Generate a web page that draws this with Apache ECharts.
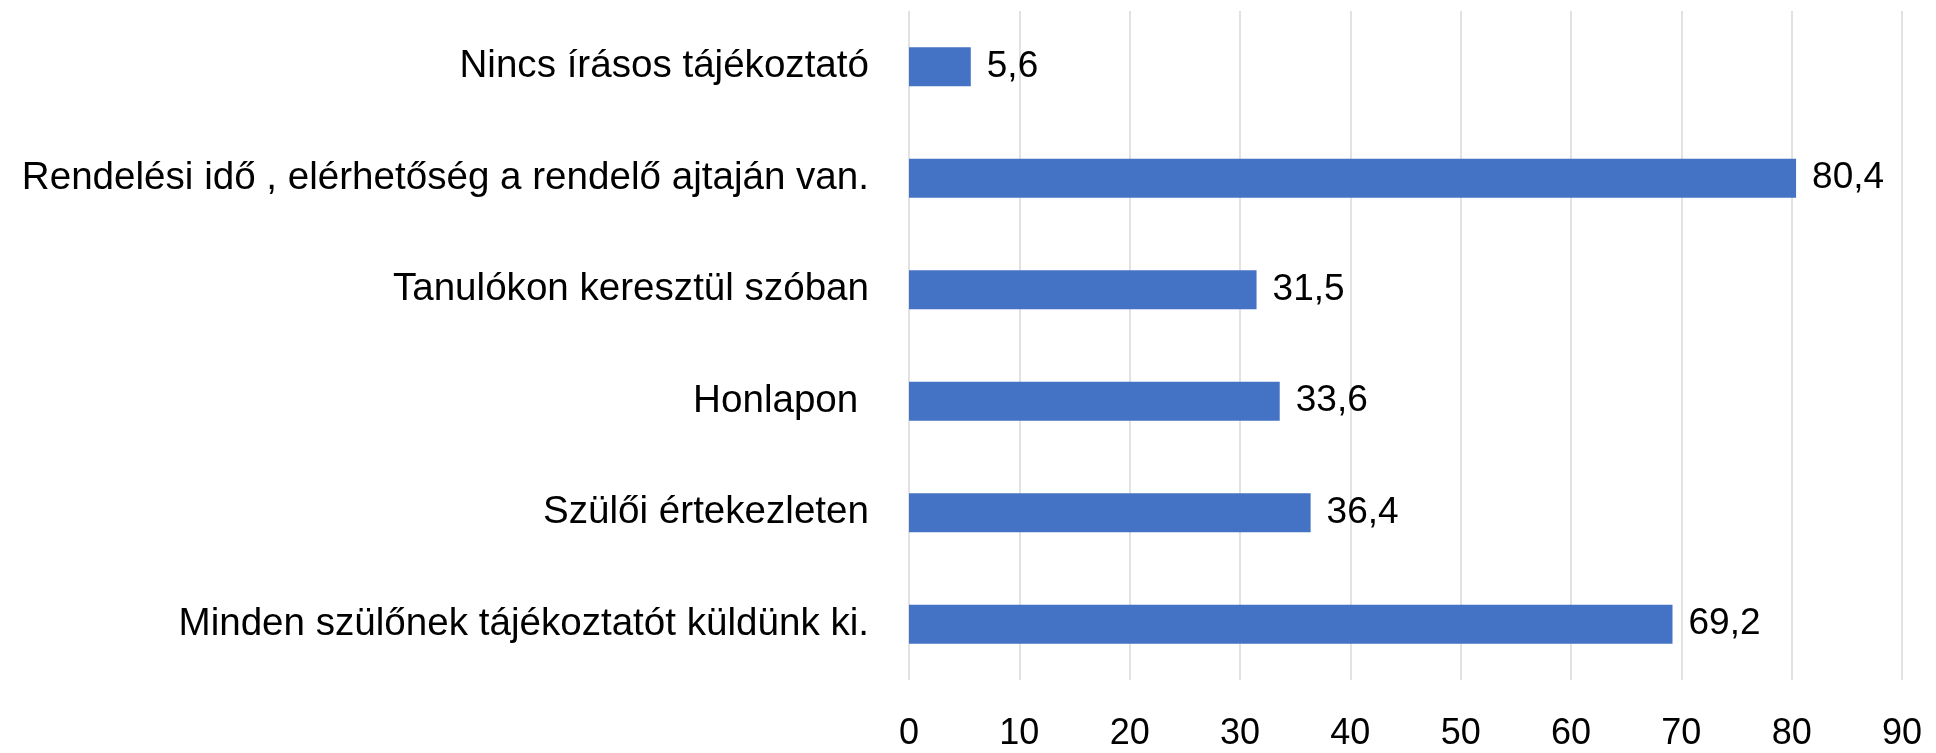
<!DOCTYPE html>
<html>
<head>
<meta charset="utf-8">
<script src="https://cdn.jsdelivr.net/npm/echarts@6/dist/echarts.min.js"></script>
<style>
  html, body { margin: 0; padding: 0; background: #fff; }
  #chart { width: 1936px; height: 753px; }
</style>
</head>
<body>
<div id="chart"></div>
<script>
// categories, top to bottom as in the picture
const categories = [
  'Nincs írásos tájékoztató',
  'Rendelési idő , elérhetőség a rendelő ajtaján van.',
  'Tanulókon keresztül szóban',
  'Honlapon ',
  'Szülői értekezleten',
  'Minden szülőnek tájékoztatót küldünk ki.'
]
const values = [5.6, 80.4, 31.5, 33.6, 36.4, 69.2]

const xMin = 0
const xMax = 90
const xStep = 10

const chart = echarts.init(document.getElementById('chart'))

const font = 'Liberation Sans, Arial, sans-serif'

const option = {
  animation: false,
  grid: {
    left: 909,
    right: 34,
    top: 11,
    bottom: 73
  },
  xAxis: {
    type: 'value',
    min: xMin,
    max: xMax,
    interval: xStep,
    axisLine: { show: false },
    axisTick: { show: false },
    splitLine: { show: true, lineStyle: { color: '#d9d9d9', width: 1.5 } },
    axisLabel: {
      margin: 36,
      color: '#000',
      fontSize: 36,
      fontFamily: font
    }
  },
  yAxis: {
    type: 'category',
    inverse: true,
    data: categories,
    axisLine: { show: false },
    axisTick: { show: false },
    axisLabel: {
      margin: 40,
      color: '#000',
      fontSize: 38.6,
      fontFamily: font
    }
  },
  series: [
    {
      type: 'bar',
      data: values,
      barWidth: '35%',
      itemStyle: { color: '#4472C4' },
      label: {
        show: true,
        position: 'right',
        distance: 16,
        color: '#000',
        fontSize: 37,
        fontFamily: font,
        formatter: p => String(p.value).replace('.', ',')
      }
    }
  ]
}

chart.setOption(option)
</script>
</body>
</html>
